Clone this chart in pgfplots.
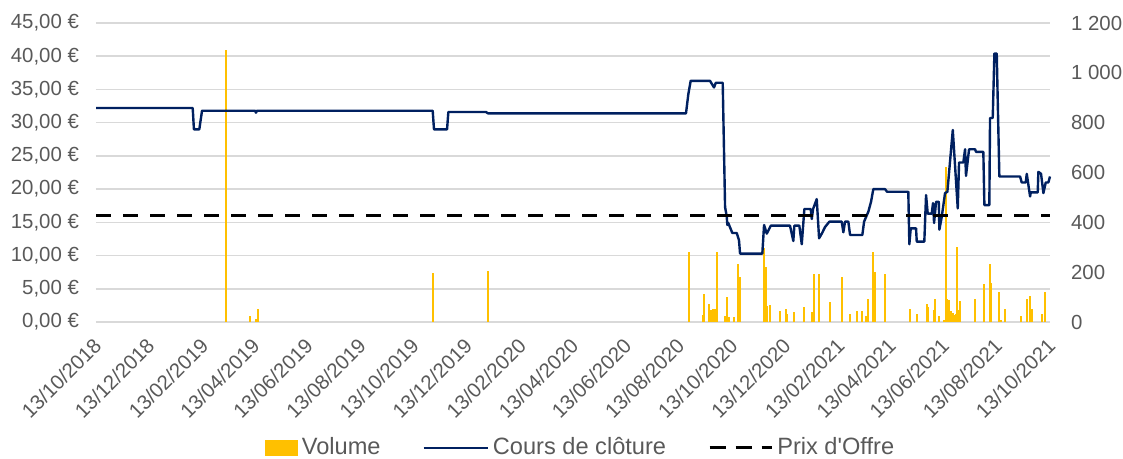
\documentclass[border=0pt]{standalone}
\usepackage{fontspec}
\setmainfont{Liberation Sans}
\usepackage{pgfplots}
\pgfplotsset{compat=1.18}
\usetikzlibrary{calc}
\definecolor{navy}{HTML}{002060}
\definecolor{gold}{HTML}{FFC000}
\definecolor{txt}{HTML}{595959}
\definecolor{gridc}{HTML}{D9D9D9}
\pgfplotsset{base/.style={width=477pt,height=149.5pt,scale only axis,
  xmin=0,xmax=1096, axis line style={draw=none}, major tick length=0pt,
  tick style={draw=none}, clip=false}}
\begin{document}
\begin{tikzpicture}[font=\fontsize{10.2}{12}\selectfont]
% axis 1: grid, x labels, left labels
\begin{axis}[base, ymin=0, ymax=45,
  ytick={0,5,...,45},
  yticklabels={{0,00 €},{5,00 €},{10,00 €},{15,00 €},{20,00 €},{25,00 €},{30,00 €},{35,00 €},{40,00 €},{45,00 €}},
  ymajorgrids, grid style={gridc, line width=0.75pt},
  yticklabel style={text=txt, xshift=-5pt},
  xtick={0,61,123,182,243,304,365,426,488,548,609,670,731,792,854,913,974,1035,1096},
  xticklabels={13/10/2018,13/12/2018,13/02/2019,13/04/2019,13/06/2019,13/08/2019,13/10/2019,13/12/2019,13/02/2020,13/04/2020,13/06/2020,13/08/2020,13/10/2020,13/12/2020,13/02/2021,13/04/2021,13/06/2021,13/08/2021,13/10/2021},
  xticklabel style={text=txt, xshift=3.2pt, yshift=-7.8pt, rotate=45, anchor=east},
]
\addplot[draw=none] coordinates {(0,0)(1096,0)};
\end{axis}
% axis 2: volume (right)
\begin{axis}[base, ymin=0, ymax=1200,
  ytick={0,200,...,1200},
  yticklabels={0,200,400,600,800,1 000,1 200},
  yticklabel pos=right,
  yticklabel style={text=txt, anchor=west, xshift=7pt},
  xtick=\empty,
]
\addplot[ycomb, gold, line width=1pt, mark=none] coordinates {
(149.4,1090)
(177,23)(183.8,14)(185.8,54)
(387.5,195)(450,204)
(681.3,281)
(697,30)(699,112)(704.6,72)(706,50)(709,54)(711,54)(712.9,281)
(722.7,25)(725.3,102)(727.6,20)(733.3,20)(738,232)(739.9,181)
(767.5,298)(769.4,221)(771.3,63)(774.4,67)(785.8,44)(792.7,54)(794.2,34)(801.5,40)
(813.8,60)(822.3,40)(824.9,192)(830.7,192)(843.3,80)(857.4,181)(866.6,34)(873.9,43)(880,43)(884.3,23)(887,94)(892.7,281)(894.6,201)(906.8,192)
(935.2,54)(942.9,34)(954.4,74)(956.3,60)(963.1,47)(964.3,91)(968.9,23)(974.6,10)(976.2,621)(978.1,94)(979.7,90)(981.9,44)(984.2,36)(986.1,27)(987.7,34)(989.5,302)(991.5,47)(993,83)
(1009.5,91)(1020.6,152)(1026.7,232)(1028,158)(1037.6,121)(1039.4,10)(1044.5,52)
(1062.4,23)(1069.3,92)(1073.1,103)(1075,52)(1086.5,34)(1090.7,121)
};
\end{axis}
% axis 3: price + offer, legend
\begin{axis}[base, ymin=0, ymax=45, hide axis,
  legend columns=3,
  legend style={at={(0.509,-0.421)}, anchor=center, draw=none, fill=none,
    font=\fontsize{11.8}{13}\selectfont, text=txt,
    /tikz/every even column/.append style={column sep=19pt}},
]
\coordinate (SW) at (rel axis cs:0,0);
\coordinate (NE) at (rel axis cs:1,1);
\addlegendimage{legend image code/.code={\fill[gold] (0pt,-3.7pt) rectangle (16pt,3.7pt);}}
\addlegendentry{Volume}
\addplot[navy, line width=1.2pt, line join=round,
  legend image code/.code={\draw[navy, line width=1.2pt] (0pt,0pt) -- (32pt,0pt);}] coordinates {
(0,32.2)(111.1,32.2)(112.5,29.0)(118.7,29.0)(121.8,31.8)(182.7,31.8)(183.8,31.5)(185,31.8)(386.8,31.8)(388.3,29.0)(403.3,29.0)(404.8,31.6)(448,31.6)(450.4,31.4)(677.8,31.4)(680.5,34.3)(683.2,36.3)(705.4,36.3)(710,35.3)(712,36.0)(720,36.0)(722.7,17.3)(724.6,15.9)(725.3,14.6)(726.4,14.9)(731,13.4)(736.1,13.4)(738.7,12.3)(739.9,10.3)(765.5,10.3)(767.5,14.6)(770.6,13.3)(775.2,14.5)(797.3,14.5)(801.1,12.2)(802.3,14.5)(808,14.5)(810.8,11.7)(813.8,17.0)(821.1,17.0)(822.3,15.5)(823.8,17.0)(828,18.5)(830.7,12.6)(833.8,13.3)(837.6,14.3)(842.5,15.1)(856.7,15.1)(858.6,13.5)(860.5,15.1)(864.3,15.1)(866.3,13.1)(880.4,13.1)(882.4,15.1)(887.3,16.6)(890.4,18.1)(893,20.0)(906.5,20.0)(908.8,19.6)(933.2,19.6)(934.4,11.7)(936,14.1)(942.1,14.1)(942.9,12.1)(951.6,12.1)(953.6,19.1)(955.5,16.3)(960.1,16.3)(961.6,17.9)(962.8,14.9)(965.1,18.1)(968.2,18.1)(968.9,13.9)(971.6,15.8)(975.4,19.4)(978.1,19.6)(984.3,28.9)(990,17.1)(991.5,24.0)(996.4,24.0)(998.4,26.0)(999.5,22.0)(1003,26.0)(1009.9,26.0)(1011,25.6)(1019.4,25.6)(1020.6,17.6)(1026.3,17.6)(1027.1,30.7)(1030.2,30.7)(1032.1,40.4)(1034.8,40.4)(1037.8,21.9)(1061.6,21.9)(1063.5,21.0)(1068.1,21.0)(1069.3,22.3)(1073.1,18.9)(1073.9,19.5)(1081.9,19.5)(1082.6,22.6)(1085.7,22.3)(1088.4,19.4)(1091.1,21.0)(1094.1,21.0)(1096,21.9)
};
\addlegendentry{Cours de clôture}
\addplot[black, line width=1.6pt, dash pattern=on 7.5pt off 6pt,
  legend image code/.code={\draw[black, line width=1.6pt, dash pattern=on 8pt off 5pt] (0pt,0pt) -- (31pt,0pt);}] coordinates {(0,16)(1096,16)};
\addlegendentry{Prix d\textquotesingle Offre}
\end{axis}
\pgfresetboundingbox
\path ($(SW)+(-48pt,-68.5pt)$) rectangle ($(NE)+(36.5pt,11.5pt)$);
\end{tikzpicture}
\end{document}
